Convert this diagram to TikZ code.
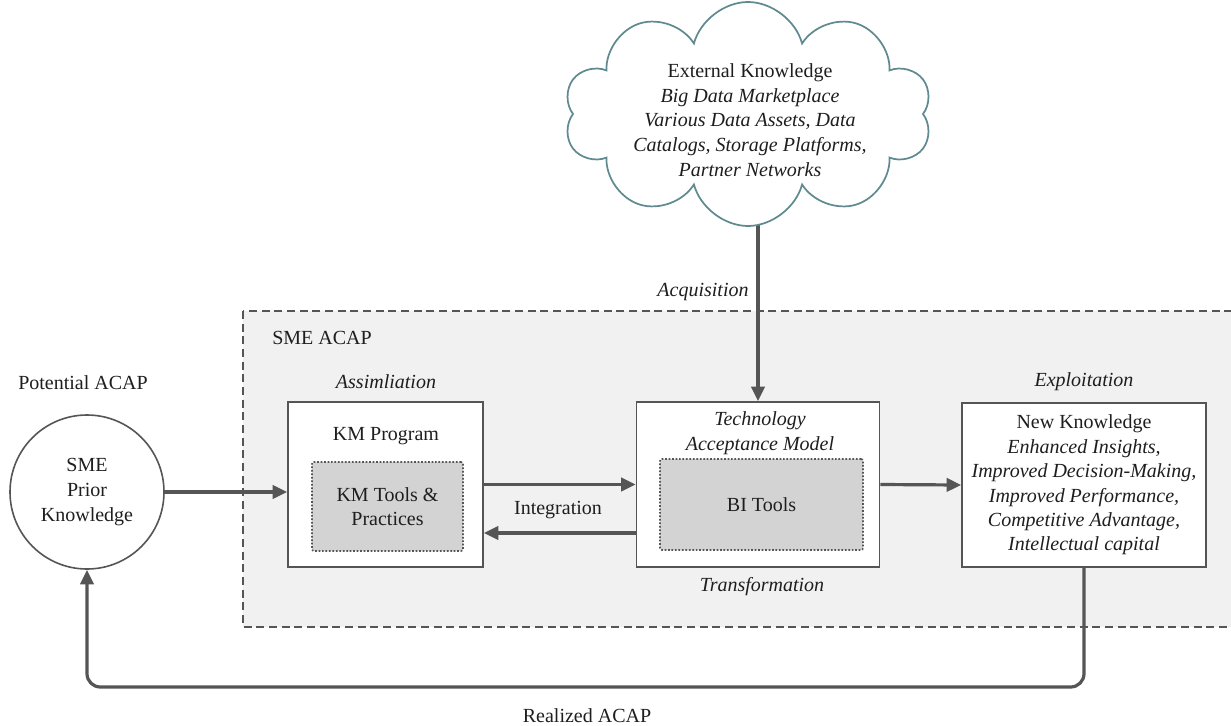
\documentclass[tikz,border=0pt]{standalone}
\usepackage{fontspec}
\setmainfont{Liberation Serif}
\usetikzlibrary{shapes.symbols,arrows.meta,calc}
\definecolor{linec}{HTML}{555555}
\definecolor{cloudc}{HTML}{5F8A8F}
\definecolor{panel}{HTML}{F1F1F1}
\definecolor{inner}{HTML}{D3D3D3}
\definecolor{txt}{HTML}{1E1E1E}
\begin{document}
\begin{tikzpicture}[x=0.75pt,y=-0.75pt,
  every node/.style={font=\fontsize{15}{18.5}\selectfont,text=txt},
  lbl/.style={inner sep=0pt,align=center},
  ilbl/.style={inner sep=0pt,align=center,font=\fontsize{15}{18.5}\selectfont\itshape},
  outerbox/.style={draw=linec,line width=1.2pt,fill=white,inner sep=0pt},
  innerbox/.style={draw=linec,line width=1.2pt,dash pattern=on 1.3pt off 1.3pt,fill=inner,inner sep=0pt,rounded corners=1.5pt},
  flow/.style={draw=linec,line width=2.4pt,-{Triangle[length=11pt,width=10pt]}}]
\useasboundingbox (0,0) rectangle (1231,725);
% panel
\draw[draw=linec,fill=panel,line width=1.1pt,dash pattern=on 6pt off 3.5pt] (243,311) rectangle (1245,627);
% boxes
\node[outerbox,minimum width=195*0.75pt,minimum height=165*0.75pt] (km) at (385.5,484.5) {};
\node[outerbox,minimum width=243*0.75pt,minimum height=165*0.75pt] (tam) at (758,484.5) {};
\node[outerbox,minimum width=244*0.75pt,minimum height=164*0.75pt] (nk) at (1084,485) {};
% cloud (drawn over the start of the acquisition arrow)
\coordinate (cc) at (748,114);
\draw[flow] (tam.north |- cc) -- (tam.north);
\node[cloud,cloud puffs=10,aspect=1.7,draw=cloudc,line width=1.3pt,fill=white,
  minimum width=368*0.75pt,minimum height=224*0.75pt,inner sep=0pt] (cloud) at (cc) {};
\node[lbl] (ext) at (750,120) {External Knowledge\\ \itshape Big Data Marketplace\\ \itshape Various Data Assets, Data\\ \itshape Catalogs, Storage Platforms,\\ \itshape Partner Networks};
% labels
\node[ilbl] (acq) at (703,292) {Acquisition};
\node[lbl] (smeacap) at (322,338) {SME ACAP};
\node[lbl] (pot) at (83,383) {Potential ACAP};
\node[ilbl] (assim) at (386,382) {Assimliation};
\node[ilbl] (expl) at (1084,382) {Exploitation};
\node[ilbl] (trans) at (762,587) {Transformation};
\node[lbl] (real) at (587,716) {Realized ACAP};
% circle
\node[circle,draw=linec,line width=1.2pt,fill=white,minimum size=154*0.75pt,inner sep=0pt,align=center] (circ) at (87,492) {SME\\Prior\\Knowledge};
% box contents
\node[lbl] (kmprog) at (386,436) {KM Program};
\node[innerbox,minimum width=151*0.75pt,minimum height=89*0.75pt,align=center] (kmtools) at (387.5,506.5) {KM Tools \&\\Practices};
\node[ilbl] (tamlbl) at (760,433) {Technology\\Acceptance Model};
\node[innerbox,minimum width=203*0.75pt,minimum height=91*0.75pt] (bi) at (761.5,504.5) {BI Tools};
\node[lbl,font=\fontsize{15}{18.3}\selectfont] (nktxt) at (1084,485) {New Knowledge\\ \itshape Enhanced Insights,\\ \itshape Improved Decision-Making,\\ \itshape Improved Performance,\\ \itshape Competitive Advantage,\\ \itshape Intellectual capital};
\node[lbl] (integ) at (558,510) {Integration};
% connectors
\coordinate (ylow) at (0,533);
\coordinate (yfb) at (0,687);
\draw[flow] (circ.east) -- (circ.east -| km.west);
\draw[flow] (km.east) -- (tam.west);
\draw[flow] (tam.west |- ylow) -- (km.east |- ylow);
\draw[flow] (tam.east) -- (nk.west);
\draw[flow,rounded corners=10pt] (nk.south) -- (nk.south |- yfb) -- (circ.south |- yfb) -- (circ.south);
\end{tikzpicture}
\end{document}
